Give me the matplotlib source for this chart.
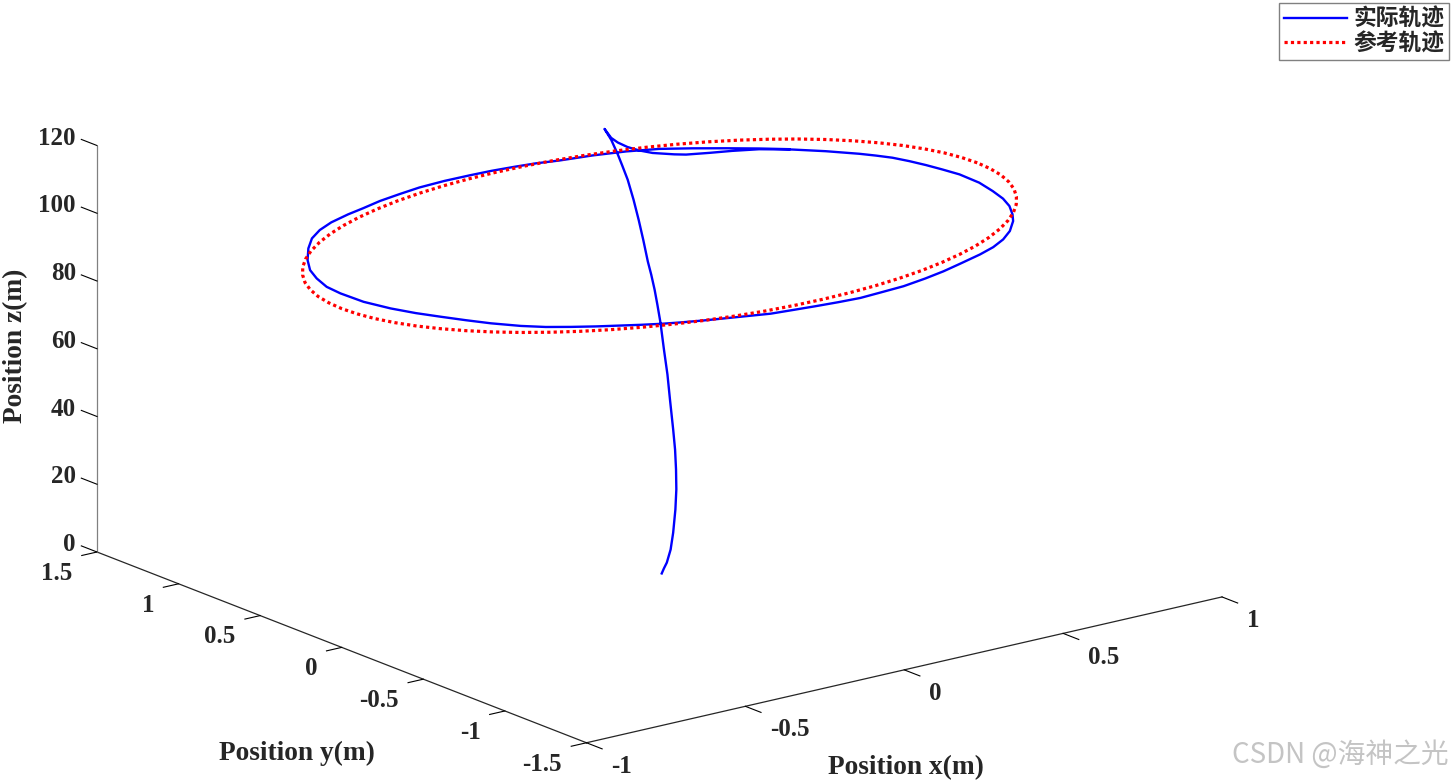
import matplotlib
matplotlib.use('Agg')
import matplotlib.pyplot as plt
from matplotlib.lines import Line2D
from mpl_toolkits.mplot3d import proj3d

ref_x = [1,.996,.985,.966,.94,.906,.866,.819,.766,.707,.643,.574,.5,.423,.342,.259,.174,.087,0,
         -.087,-.174,-.259,-.342,-.423,-.5,-.574,-.643,-.707,-.766,-.819,-.866,-.906,-.94,-.966,-.985,-.996,-1,
         -.996,-.985,-.966,-.94,-.906,-.866,-.819,-.766,-.707,-.643,-.574,-.5,-.423,-.342,-.259,-.174,-.087,0,
         .087,.174,.259,.342,.423,.5,.574,.643,.707,.766,.819,.866,.906,.94,.966,.985,.996,1]
ref_y = [0,.087,.174,.259,.342,.423,.5,.574,.643,.707,.766,.819,.866,.906,.94,.966,.985,.996,1,
         .996,.985,.966,.94,.906,.866,.819,.766,.707,.643,.574,.5,.423,.342,.259,.174,.087,0,
         -.087,-.174,-.259,-.342,-.423,-.5,-.574,-.643,-.707,-.766,-.819,-.866,-.906,-.94,-.966,-.985,-.996,-1,
         -.996,-.985,-.966,-.94,-.906,-.866,-.819,-.766,-.707,-.643,-.574,-.5,-.423,-.342,-.259,-.174,-.087,0]
ref_z = [100] * 73

climb_x = [.007,.014,.023,.035,.043,.050,.053,.052,.049,.043,.033,.025,.014,.003,.019,.036,.051,.066,.103,.140,.175,.208,.231,.249,.259,.248,.269,.300,.341,.383]
climb_y = [0,0,0,0,0,0,0,0,0,0,0,0,0,0,.05,.1,.15,.2,.3,.4,.5,.6,.68,.74,.8,.82,.82,.84,.86,.87]
climb_z = [.15,1.5,3.0,6.6,11.4,18.1,24.0,29.9,35.8,41.9,50.9,58.5,66.1,74.3,78.3,81.4,84.6,87.2,90.9,94.1,97.5,100.8,103.2,104.7,107.7,110.8,107.7,105.3,102.7,100.6]

loop_x = [.407,.443,.465,.520,.575,.637,.701,.759,.812,.836,.858,.874,.887,.897,.906,.903,.887,.869,.844,.808,.775,.718,.662,.603,.540,.453,.382,.309,.227,.149,.082,.017,
          -.049,-.114,-.176,-.263,-.343,-.399,-.445,-.490,-.533,-.587,-.639,-.689,-.733,-.779,-.813,-.845,-.876,-.902,-.922,-.925,-.919,-.896,-.867,-.821,-.760,-.702,-.644,-.582,-.508,-.448,
          -.377,-.302,-.230,-.147,-.069,-.003,.063,.124,.184,.275,.363,.441,.509,.577,.641,.697]
loop_y = [.835,.772,.743,.707,.675,.630,.552,.459,.358,.302,.243,.171,.094,.014,-.074,-.201,-.315,-.413,-.501,-.590,-.658,-.749,-.817,-.871,-.913,-.960,-.997,-1.027,-1.054,-1.064,-1.072,-1.064,
          -1.052,-1.038,-1.024,-.980,-.939,-.906,-.875,-.839,-.801,-.753,-.701,-.645,-.578,-.484,-.396,-.305,-.212,-.109,.018,.154,.250,.356,.453,.558,.672,.763,.828,.878,.919,.945,
          .979,1.003,1.023,1.031,1.029,1.024,1.012,.997,.972,.947,.910,.860,.791,.714,.637,.562]
loop_z = [100] * len(loop_x)

act_x = climb_x + loop_x
act_y = climb_y + loop_y
act_z = climb_z + loop_z

x_ticks = [-1, -0.5, 0, 0.5, 1]
x_labels = ['-1', '-0.5', '0', '0.5', '1']
y_ticks = [-1.5, -1, -0.5, 0, 0.5, 1, 1.5]
y_labels = ['-1.5', '-1', '-0.5', '0', '0.5', '1', '1.5']
z_ticks = [0, 20, 40, 60, 80, 100, 120]
z_labels = ['0', '20', '40', '60', '80', '100', '120']
series_names = ['实际轨迹', '参考轨迹']

W, H = 1454, 781
DARK = '#262626'
fig = plt.figure(figsize=(W / 100, H / 100), dpi=100, facecolor='white')
S0 = 0.8
ax = fig.add_axes([0.1, 0.1, S0 * H / W, S0], projection='3d', proj_type='ortho', facecolor='none')
ax.view_init(elev=17.4, azim=-127.5)
ax.set_box_aspect((803, 806, 427))

ax.plot(act_x, act_y, act_z, color='#0000ff', lw=1.7)
ax.plot(ref_x, ref_y, ref_z, color='#ff0000', lw=2.3, linestyle=(0, (1, 1)))

ax.set_xlim(-1, 1, view_margin=0)
ax.set_ylim(-1.5, 1.5, view_margin=0)
ax.set_zlim(0, 120, view_margin=0)
ax.set_xticks(x_ticks, x_labels)
ax.set_yticks(y_ticks, y_labels)
ax.set_zticks(z_ticks, z_labels)
ax.grid(False)

tfont = dict(family='Liberation Serif', weight='bold', size=18)
styles = ((ax.xaxis, DARK, 0.4, 0, 'left', 'baseline'),
          (ax.yaxis, DARK, 0.3, 0, 'right', 'center'),
          (ax.zaxis, '#808080', 0, 0.4, 'right', 'baseline'))
for axis, col, t_in, t_out, tick_ha, tick_va in styles:
    axis.set_pane_color((1, 1, 1, 0))
    axis.pane.set_edgecolor('none')
    axis.line.set_color(col)
    axis.line.set_linewidth(0.9)
    axis._axinfo['tick']['inward_factor'] = t_in
    axis._axinfo['tick']['outward_factor'] = t_out
    axis._axinfo['tick']['linewidth'] = {True: 0.8, False: 0.8}
    axis._axinfo['tick']['color'] = DARK
    axis.set_rotate_label(False)
    for lab in axis.get_ticklabels():
        lab.set(color=DARK, ha=tick_ha, va=tick_va, **tfont)
ax.zaxis._get_tickdir = lambda position: 1
ax.tick_params(axis='x', pad=14.3)
ax.tick_params(axis='y', pad=9)
ax.tick_params(axis='z', pad=0.3)

lfont = dict(family='Liberation Serif', weight='bold', size=19.7, color=DARK)
ax.set_xlabel('Position x(m)', labelpad=51, **lfont)
ax.set_ylabel('Position y(m)', labelpad=64, **lfont)
ax.set_zlabel('Position z(m)', labelpad=11, rotation=90, **lfont)
ax.xaxis._axinfo['label']['ha'] = 'right'
ax.yaxis._axinfo['label']['ha'] = 'left'


def corner(xv, yv, zv):
    px, py, _ = proj3d.proj_transform(xv, yv, zv, ax.get_proj())
    return ax.transData.transform((px, py))


# fit the box to the frame of the picture
fig.canvas.draw()
a = corner(-1, 1.5, 0)
b = corner(1, -1.5, 0)
k = (1222 - 97) / (b[0] - a[0])
side = S0 * H * k
ax.set_position([0.1, 0.1, side / W, side / H])
fig.canvas.draw()
a = corner(-1, 1.5, 0)
dx, dy = 97 - a[0], (H - 552) - a[1]
p = ax.get_position()
ax.set_position([p.x0 + dx / W, p.y0 + dy / H, p.width, p.height])

handles = [Line2D([], [], color='#0000ff', lw=1.7),
           Line2D([], [], color='#ff0000', lw=2.3, linestyle=(0, (1, 1)))]
leg = fig.legend(handles, series_names, loc='upper left', bbox_to_anchor=(1279 / W, 1 - 2.5 / H),
                 borderaxespad=0, frameon=True, fancybox=False, edgecolor='#808080', framealpha=1,
                 prop=dict(family=['Noto Sans CJK SC', 'DejaVu Sans'], weight='bold', size=16.4),
                 handlelength=2.78, handletextpad=0.27, labelspacing=0.08, borderpad=0.22,
                 labelcolor=DARK)
leg.get_frame().set_linewidth(1.0)

fig.text(1340 / W, 1 - 755 / H, 'CSDN @海神之光', color='#c4c4c4', ha='center', va='center',
         family=['Noto Sans CJK SC', 'DejaVu Sans'], fontsize=20)

fig.savefig('out.png', dpi=100)
